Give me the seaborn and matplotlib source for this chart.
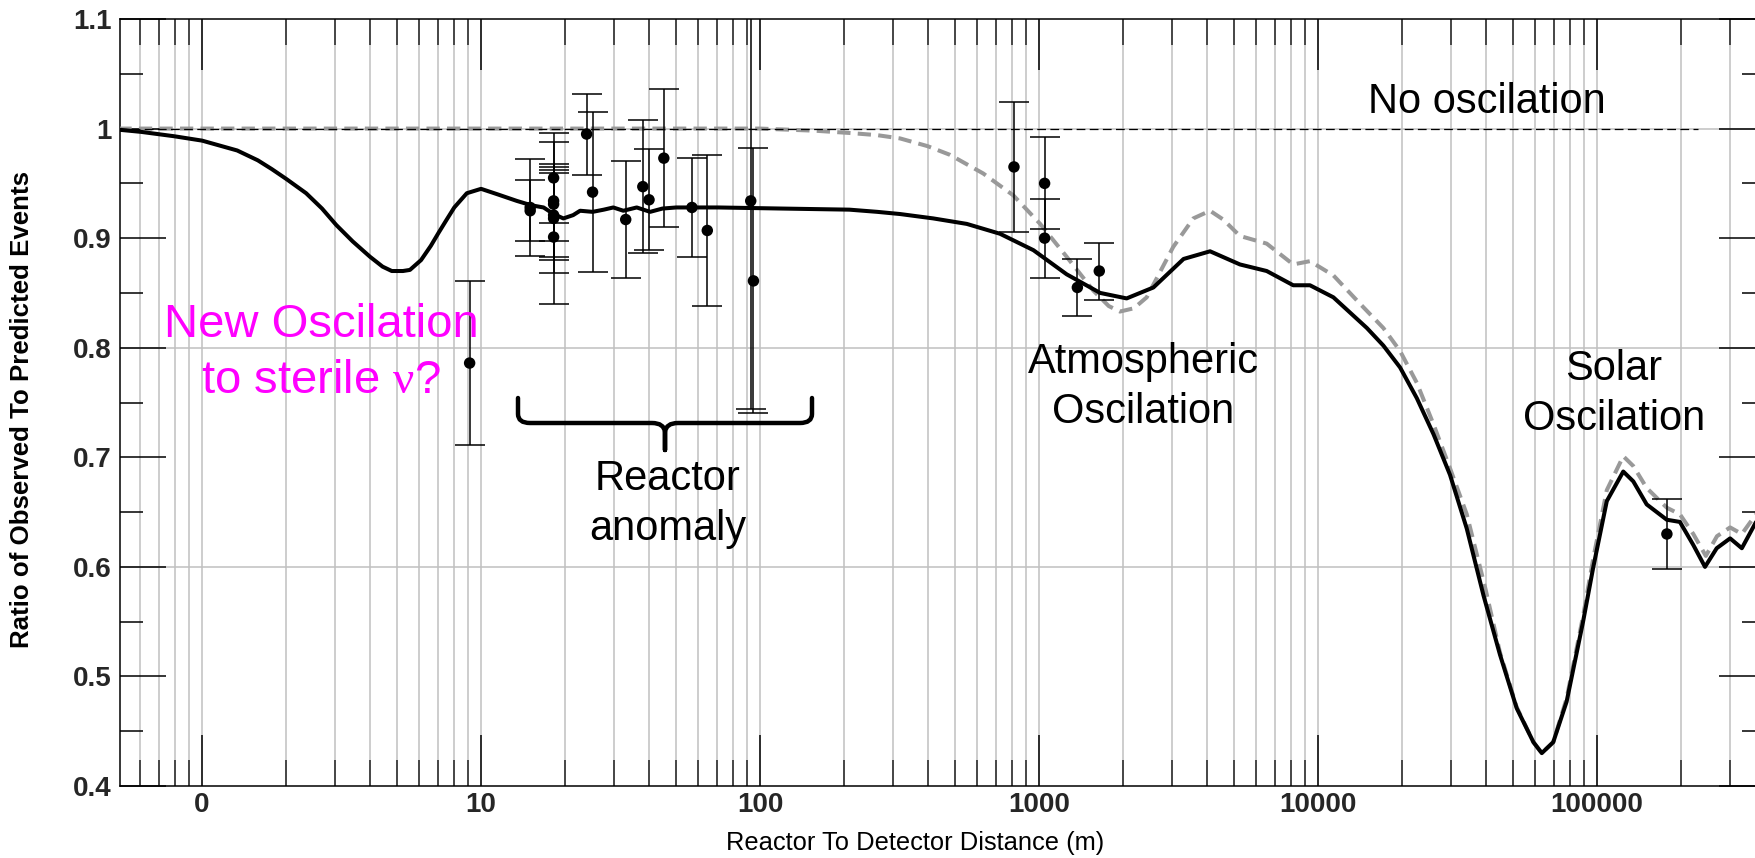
import numpy as np
import pandas as pd
import matplotlib
matplotlib.use("Agg")
import matplotlib.pyplot as plt
import seaborn as sns
from matplotlib.ticker import FixedLocator, FixedFormatter, NullFormatter, LogLocator, MultipleLocator
from matplotlib.path import Path
from matplotlib.patches import PathPatch

# ---------------- data ----------------
exp_distance_m = [9.1, 15.0, 15.0, 18.2, 18.2, 18.2, 18.2, 18.2, 18.2, 23.9, 25.1, 33.0,
                  38.0, 40.0, 45.2, 57.0, 64.7, 92.6, 94.7, 813, 1047, 1047, 1372, 1644, 178000]
exp_ratio = [0.786, 0.928, 0.925, 0.955, 0.934, 0.931, 0.921, 0.901, 0.918, 0.995, 0.942, 0.917,
             0.947, 0.935, 0.973, 0.928, 0.907, 0.934, 0.861, 0.965, 0.950, 0.900, 0.855, 0.870, 0.630]
exp_error = [0.075, 0.044, 0.028, 0.041, 0.054, 0.034, 0.038, 0.061, 0.050, 0.037, 0.073, 0.053,
             0.061, 0.046, 0.063, 0.045, 0.069, 0.190, 0.121, 0.059, 0.042, 0.036, 0.026, 0.026, 0.032]

# solid black curve (with sterile neutrino), log10 of distance in m
sterile_log10_distance = [-0.30, -0.219, -0.10, 0.0, 0.126, 0.20, 0.25, 0.302, 0.373, 0.43, 0.481,
                          0.54, 0.602, 0.647, 0.68, 0.72, 0.745, 0.785, 0.82, 0.848, 0.877,
                          0.904, 0.949, 1.0, 1.059, 1.128, 1.18, 1.224, 1.26, 1.295, 1.33,
                          1.355, 1.40, 1.44, 1.474, 1.51, 1.558, 1.606, 1.65, 1.70, 1.85,
                          2.08, 2.32, 2.42, 2.502, 2.621, 2.741, 2.86, 2.98, 3.099, 3.219,
                          3.314, 3.41, 3.518, 3.613, 3.72, 3.816, 3.911, 3.971, 4.055, 4.175,
                          4.234, 4.294, 4.354, 4.414, 4.473, 4.533, 4.593, 4.652, 4.712, 4.772,
                          4.802, 4.843, 4.891, 4.95, 4.986, 5.035, 5.094, 5.13, 5.178, 5.25,
                          5.297, 5.345, 5.387, 5.429, 5.477, 5.519, 5.57, 5.61]
sterile_ratio = [0.999, 0.997, 0.993, 0.989, 0.980, 0.971, 0.963, 0.954, 0.941, 0.927, 0.912,
                 0.897, 0.883, 0.874, 0.870, 0.870, 0.871, 0.880, 0.893, 0.905, 0.917,
                 0.928, 0.941, 0.945, 0.940, 0.934, 0.930, 0.928, 0.922, 0.918, 0.921,
                 0.925, 0.924, 0.926, 0.928, 0.925, 0.928, 0.924, 0.927, 0.928, 0.928,
                 0.927, 0.926, 0.924, 0.922, 0.918, 0.913, 0.904, 0.889, 0.867, 0.850,
                 0.845, 0.855, 0.881, 0.888, 0.876, 0.870, 0.857, 0.857, 0.846, 0.818,
                 0.802, 0.782, 0.754, 0.721, 0.684, 0.635, 0.574, 0.520, 0.471, 0.440,
                 0.430, 0.440, 0.477, 0.550, 0.599, 0.660, 0.687, 0.678, 0.657, 0.643,
                 0.641, 0.620, 0.600, 0.617, 0.626, 0.617, 0.641, 0.655]

# dashed grey curve (standard three-flavour oscillation)
standard_log10_distance = [-0.30, 1.0, 2.0, 2.1, 2.2, 2.32, 2.42, 2.502, 2.6, 2.681,
                           2.80, 2.908, 3.004, 3.099, 3.195, 3.25, 3.29, 3.34, 3.386, 3.481,
                           3.553, 3.613, 3.66, 3.72, 3.816, 3.911, 3.971, 4.055, 4.151, 4.234,
                           4.294, 4.354, 4.414, 4.473, 4.533, 4.6, 4.652, 4.712, 4.772, 4.802,
                           4.843, 4.891, 4.95, 4.986, 5.035, 5.094, 5.13, 5.178, 5.25, 5.297,
                           5.345, 5.39, 5.43, 5.477, 5.519, 5.57, 5.61]
standard_ratio = [1.0, 1.0, 1.0, 0.999, 0.998, 0.996, 0.994, 0.991, 0.984, 0.976,
                  0.959, 0.939, 0.913, 0.883, 0.852, 0.838, 0.833, 0.836, 0.846, 0.892,
                  0.918, 0.925, 0.917, 0.902, 0.895, 0.876, 0.879, 0.866, 0.840, 0.818,
                  0.797, 0.768, 0.730, 0.690, 0.648, 0.580, 0.522, 0.472, 0.440, 0.430,
                  0.440, 0.480, 0.555, 0.607, 0.670, 0.701, 0.692, 0.672, 0.654, 0.648,
                  0.630, 0.610, 0.628, 0.636, 0.630, 0.648, 0.660]

no_osc_distance_m = [0.5, 230000]
no_osc_ratio = [1.0, 1.0]

xtick_values = [1, 10, 100, 1000, 10000, 100000]
xtick_labels = ["0", "10", "100", "1000", "10000", "100000"]
ytick_values = [0.4, 0.5, 0.6, 0.7, 0.8, 0.9, 1.0, 1.1]
ytick_labels = ["0.4", "0.5", "0.6", "0.7", "0.8", "0.9", "1", "1.1"]
hgrid_values = [0.6, 0.8, 1.0]

# ---------------- styling ----------------
sns.set_theme(style="ticks")
plt.rcParams['font.family'] = ['Liberation Sans', 'DejaVu Sans']
plt.rcParams['mathtext.fontset'] = 'custom'
plt.rcParams['mathtext.rm'] = 'Liberation Serif'
plt.rcParams['mathtext.it'] = 'Liberation Serif'

W, H = 1756, 858
fig = plt.figure(figsize=(W / 100, H / 100), dpi=100)
fig.patch.set_facecolor('white')
ax = fig.add_axes([120 / W, 72 / H, 1645 / W, 767 / H])
ax.set_facecolor('white')

ax.set_xscale('log')
ax.set_xlim(0.508, 4.0e5)
ax.set_ylim(0.4, 1.1)

GRID = '#c0c0c0'
ax.xaxis.set_major_locator(FixedLocator(xtick_values))
ax.xaxis.set_major_formatter(FixedFormatter(xtick_labels))
ax.xaxis.set_minor_locator(LogLocator(base=10, subs=np.arange(2, 10), numticks=100))
ax.xaxis.set_minor_formatter(NullFormatter())
ax.yaxis.set_major_locator(FixedLocator(ytick_values))
ax.yaxis.set_major_formatter(FixedFormatter(ytick_labels))
ax.yaxis.set_minor_locator(MultipleLocator(0.05))

ax.grid(True, which='both', axis='x', color=GRID, lw=1.1)
ax.grid(False, axis='y')
for yv in hgrid_values:
    ax.axhline(yv, color=GRID, lw=1.1, zorder=0.5)
ax.set_axisbelow(True)

ax.tick_params(axis='x', which='major', direction='in', length=37, width=1.1,
               top=True, bottom=True, pad=4.5, labelsize=20, color='black')
ax.tick_params(axis='x', which='minor', direction='in', length=18.5, width=1.1,
               top=True, bottom=True, color='#222222')
ax.tick_params(axis='y', which='major', direction='in', length=33, width=1.1,
               left=True, right=True, pad=6, labelsize=20, color='black')
ax.tick_params(axis='y', which='minor', direction='in', length=16.5, width=1.1,
               left=True, right=True, color='black')
for lab in ax.get_xticklabels() + ax.get_yticklabels():
    lab.set_fontweight('bold')
for sp in ax.spines.values():
    sp.set_visible(True)
    sp.set_color('black')
    sp.set_linewidth(1.1)

# ---------------- curves ----------------
std_df = pd.DataFrame({'d': np.power(10.0, standard_log10_distance), 'r': standard_ratio})
ster_df = pd.DataFrame({'d': np.power(10.0, sterile_log10_distance), 'r': sterile_ratio})
noosc_df = pd.DataFrame({'d': no_osc_distance_m, 'r': no_osc_ratio})

sns.lineplot(data=std_df, x='d', y='r', ax=ax, color='#999999', lw=2.9,
             sort=False, estimator=None, zorder=3)
ax.lines[-1].set_dashes((3.3, 1.8))
ax.lines[-1].set_dash_capstyle('butt')
sns.lineplot(data=noosc_df, x='d', y='r', ax=ax, color='black', lw=0.9,
             sort=False, estimator=None, zorder=3.5)
ax.lines[-1].set_dashes((7, 3.5))
sns.lineplot(data=ster_df, x='d', y='r', ax=ax, color='black', lw=2.9,
             sort=False, estimator=None, zorder=4)
ax.lines[-1].set_solid_joinstyle('round')

# ---------------- data points ----------------
ax.errorbar(exp_distance_m, exp_ratio, yerr=exp_error, fmt='none', ecolor='black',
            elinewidth=1.1, capsize=10.8, capthick=1.1, zorder=5)
pts = pd.DataFrame({'d': exp_distance_m, 'r': exp_ratio})
sns.scatterplot(data=pts, x='d', y='r', ax=ax, color='black', s=68, edgecolor='none',
                zorder=6, legend=False)

# ---------------- labels ----------------
ax.set_xlabel('Reactor To Detector Distance (m)', fontsize=18.4, color='black')
ax.xaxis.set_label_coords((915 - 120) / 1645, (786 - 843) / 767)
ax.xaxis.label.set_va('center')
ax.set_ylabel('Ratio of Observed To Predicted Events', fontsize=18.6, fontweight='bold',
              color='black')
ax.yaxis.set_label_coords((22 - 120) / 1645, (786 - 410) / 767)
ax.yaxis.label.set_va('center')


def ftext(px, py, s, ha='center', **kw):
    fig.text(px / W, 1 - py / H, s, ha=ha, va='baseline', **kw)


ftext(1487, 113, 'No oscilation', fontsize=30, color='black')
ftext(1143, 373, 'Atmospheric', fontsize=30, color='black')
ftext(1143, 423, 'Oscilation', fontsize=30, color='black')
ftext(1614, 380, 'Solar', fontsize=30, color='black')
ftext(1614, 430, 'Oscilation', fontsize=30, color='black')
ftext(668, 490, 'Reactor', fontsize=30, color='black')
ftext(668, 540, 'anomaly', fontsize=30, color='black')
ftext(321, 337, 'New Oscilation', fontsize=34, color='#ff00ff')
ftext(321, 393, r'to sterile $\mathrm{\nu}$?', fontsize=34, color='#ff00ff')

# curly bracket under the reactor points (pixel positions in the figure)
pix = [(518, 398), (518, 414), (518, 423), (530, 423), (652, 423), (664, 423), (665, 432), (665, 450),
       (665, 450), (665, 432), (666, 423), (678, 423), (800, 423), (812, 423), (812, 414), (812, 398)]
codes = [Path.MOVETO, Path.LINETO, Path.CURVE3, Path.CURVE3, Path.LINETO, Path.CURVE3, Path.CURVE3,
         Path.LINETO, Path.MOVETO, Path.LINETO, Path.CURVE3, Path.CURVE3, Path.LINETO, Path.CURVE3,
         Path.CURVE3, Path.LINETO]
verts = [(x / W, 1 - y / H) for x, y in pix]
bracket = PathPatch(Path(verts, codes), transform=fig.transFigure, fill=False, lw=3.2,
                    edgecolor='black', capstyle='round', joinstyle='round')
fig.patches.append(bracket)

fig.savefig('out.png', dpi=100, facecolor='white')
